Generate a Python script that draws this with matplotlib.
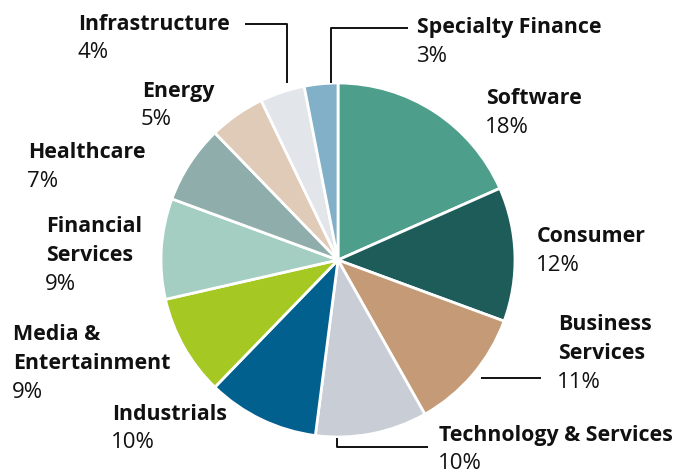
import matplotlib.pyplot as plt

# Sector breakdown (clockwise from 12 o'clock)
sectors = ['Software', 'Consumer', 'Business\nServices', 'Technology & Services',
           'Industrials', 'Media &\nEntertainment', 'Financial\nServices',
           'Healthcare', 'Energy', 'Infrastructure', 'Specialty Finance']
shares = [18, 12, 11, 10, 10, 9, 9, 7, 5, 4, 3]
colors = ['#4d9f8b', '#1e5c5a', '#c49b76', '#c9cdd5', '#02608f', '#a6c823',
          '#a5cec3', '#8fadaa', '#e0cbb8', '#e2e5ea', '#82b0c8']

# label anchor (left x, top-line y) in pixels from top-left
label_pos = [(486, 99), (537, 237), (558, 325), (439, 435), (112, 414),
             (13, 335), (46, 227), (28, 153), (142, 91), (78, 24), (417, 28)]

# leader lines in pixels from top-left
leaders = [
    [(245, 24), (287, 24), (287, 83)],
    [(331, 83), (331, 28), (408, 28)],
    [(481, 378), (541, 378)],
    [(337, 438), (337, 447), (428, 447)],
]

W, H = 675, 470
fig = plt.figure(figsize=(W / 100, H / 100), dpi=100)
ax = fig.add_axes([0, 0, 1, 1])

ax.pie(shares, colors=colors, startangle=90, counterclock=False,
       center=(338, H - 260), radius=177, frame=True,
       wedgeprops=dict(edgecolor='white', linewidth=2))
ax.set_xlim(0, W)
ax.set_ylim(0, H)
ax.set_aspect('equal')
ax.axis('off')

font = ['Open Sans', 'DejaVu Sans']
step = 28.5
for name, val, (x, y) in zip(sectors, shares, label_pos):
    lines = name.split('\n')
    for i, ln in enumerate(lines):
        ax.text(x, H - (y + i * step), ln, fontsize=15.4, fontweight='bold',
                family=font, ha='left', va='center', color='#111111')
    ax.text(x - 1, H - (y + len(lines) * step), f'{val}%', fontsize=16,
            family=font, ha='left', va='center', color='#111111')

for path in leaders:
    xs = [p[0] for p in path]
    ys = [H - p[1] for p in path]
    ax.plot(xs, ys, color='#111111', linewidth=1.4, solid_capstyle='butt')

fig.savefig('out.png', dpi=100)
